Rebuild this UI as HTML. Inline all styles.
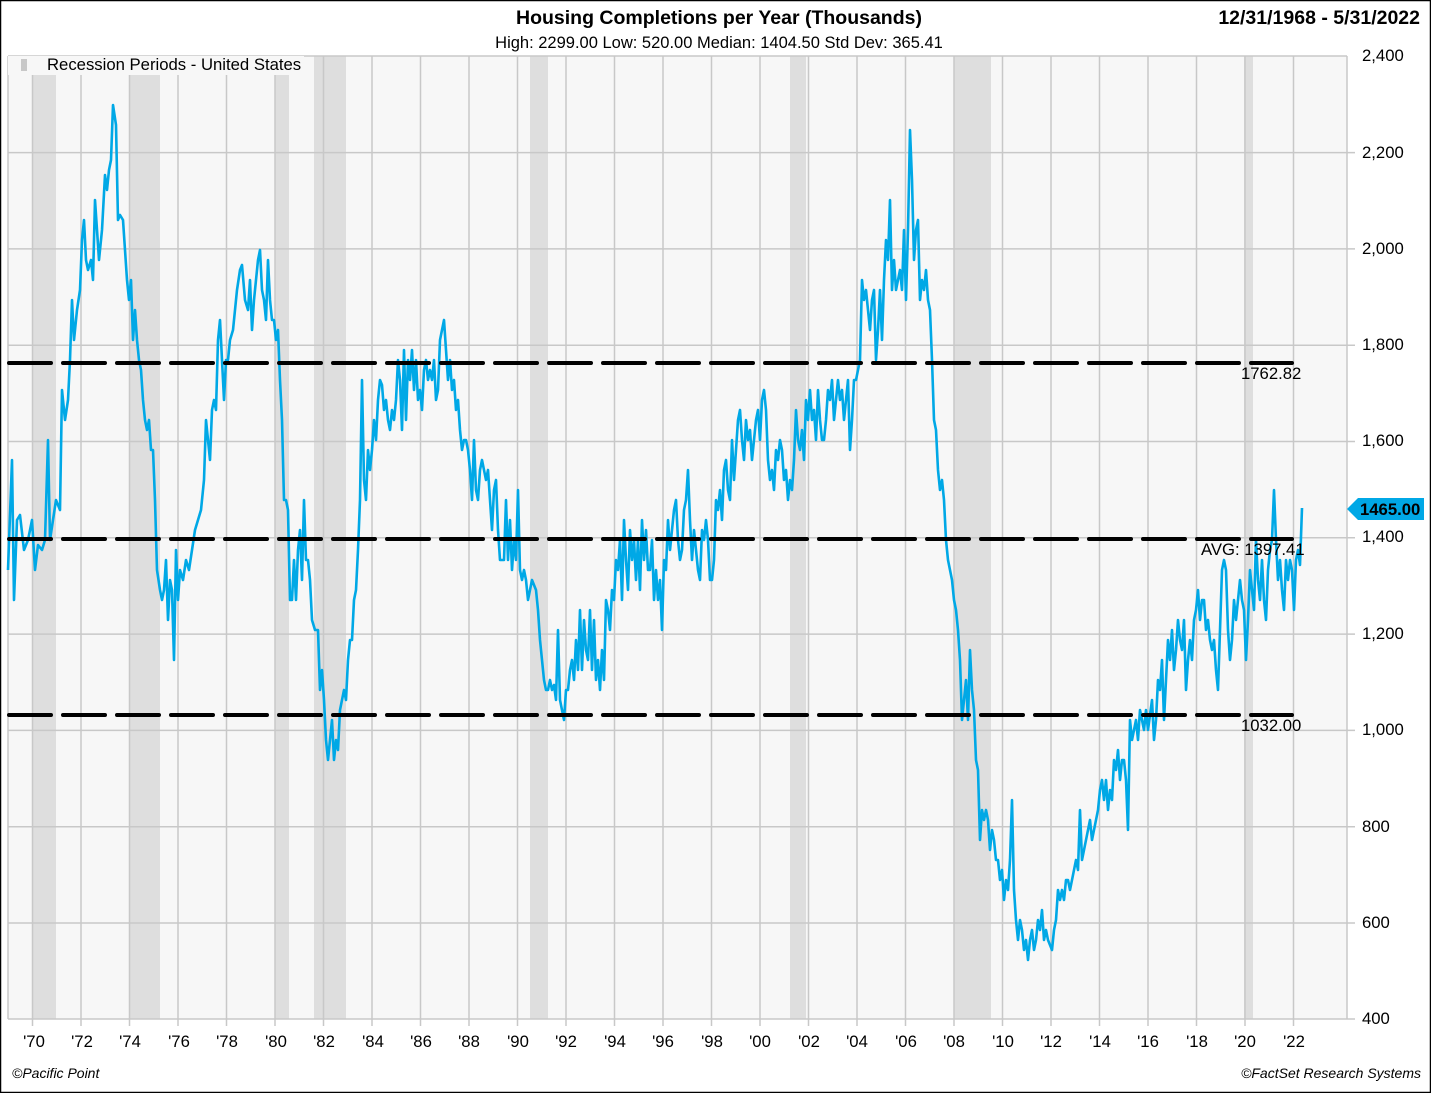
<!DOCTYPE html>
<html><head><meta charset="utf-8"><style>
html,body{margin:0;padding:0;background:#fff}
svg{display:block;font-family:"Liberation Sans",Arial,sans-serif}
</style></head><body>
<svg width="1431" height="1093" viewBox="0 0 1431 1093" xmlns="http://www.w3.org/2000/svg">
<rect x="0.5" y="0.5" width="1430" height="1092" fill="#fff" stroke="#000" stroke-width="1.5"/>
<rect x="8" y="56" width="1339" height="963" fill="#f7f7f7"/>
<g fill="#dedede">
<rect x="32" y="56" width="24" height="963"/>
<rect x="129" y="56" width="31" height="963"/>
<rect x="275" y="56" width="14" height="963"/>
<rect x="314" y="56" width="32" height="963"/>
<rect x="530" y="56" width="18" height="963"/>
<rect x="790" y="56" width="16" height="963"/>
<rect x="954" y="56" width="37" height="963"/>
<rect x="1244" y="56" width="9" height="963"/>
</g>
<g stroke="#c8c8c8" stroke-width="1.5">
<line x1="8" x2="1347" y1="56" y2="56"/><line x1="8" x2="1355" y1="152.6" y2="152.6"/><line x1="8" x2="1355" y1="248.9" y2="248.9"/><line x1="8" x2="1355" y1="345.2" y2="345.2"/><line x1="8" x2="1355" y1="441.5" y2="441.5"/><line x1="8" x2="1355" y1="537.8" y2="537.8"/><line x1="8" x2="1355" y1="634.1" y2="634.1"/><line x1="8" x2="1355" y1="730.4" y2="730.4"/><line x1="8" x2="1355" y1="826.7" y2="826.7"/><line x1="8" x2="1355" y1="923" y2="923"/><line x1="8" x2="1355" y1="1019" y2="1019"/>
<line x1="8" x2="8" y1="56" y2="1019"/><line x1="1347" x2="1347" y1="56" y2="1019"/>
</g>
<g stroke="#c8c8c8" stroke-width="1.5">
<line x1="32.5" x2="32.5" y1="56" y2="1026"/><line x1="81" x2="81" y1="56" y2="1026"/><line x1="129.5" x2="129.5" y1="56" y2="1026"/><line x1="178" x2="178" y1="56" y2="1026"/><line x1="226.5" x2="226.5" y1="56" y2="1026"/><line x1="275" x2="275" y1="56" y2="1026"/><line x1="323.5" x2="323.5" y1="56" y2="1026"/><line x1="372" x2="372" y1="56" y2="1026"/><line x1="420.5" x2="420.5" y1="56" y2="1026"/><line x1="469" x2="469" y1="56" y2="1026"/><line x1="517.5" x2="517.5" y1="56" y2="1026"/><line x1="566" x2="566" y1="56" y2="1026"/><line x1="614.5" x2="614.5" y1="56" y2="1026"/><line x1="663" x2="663" y1="56" y2="1026"/><line x1="711.5" x2="711.5" y1="56" y2="1026"/><line x1="760" x2="760" y1="56" y2="1026"/><line x1="808.5" x2="808.5" y1="56" y2="1026"/><line x1="857" x2="857" y1="56" y2="1026"/><line x1="905.5" x2="905.5" y1="56" y2="1026"/><line x1="954" x2="954" y1="56" y2="1026"/><line x1="1002.5" x2="1002.5" y1="56" y2="1026"/><line x1="1051" x2="1051" y1="56" y2="1026"/><line x1="1099.5" x2="1099.5" y1="56" y2="1026"/><line x1="1148" x2="1148" y1="56" y2="1026"/><line x1="1196.5" x2="1196.5" y1="56" y2="1026"/><line x1="1245" x2="1245" y1="56" y2="1026"/><line x1="1293.5" x2="1293.5" y1="56" y2="1026"/>
</g>
<rect x="8" y="56" width="296" height="19" fill="#f7f7f7"/>
<rect x="21" y="59" width="6" height="12" fill="#c8c8c8"/>
<text x="47" y="70" font-size="16.7" fill="#000">Recession Periods - United States</text>
<polyline fill="none" stroke="#00a8e6" stroke-width="2.6" stroke-linejoin="round" points="8,570 12,460 14,600 17,520 20,515 24,550 28,540 32,520 35,570 38,545 42,550 45,540 48,440 50,540 53,520 56,500 60,510 62,390 65,420 68,400 70,360 72,300 74,340 77,310 80,290 82,240 84,220 86,260 88,270 91,260 93,280 95,200 97,230 99,260 102,230 105,175 107,190 109,170 111,160 113,105 116,125 118,220 120,215 123,220 125,250 127,280 129,300 131,280 133,340 135,310 137,340 139,360 141,370 143,400 145,420 147,430 149,420 151,450 153,450 155,500 157,570 160,590 162,600 164,590 166,560 168,620 170,580 172,590 174,660 176,550 178,600 180,570 183,580 186,560 189,570 192,550 195,530 198,520 201,510 204,480 206,420 208,440 210,460 212,410 214,400 216,410 218,340 220,320 222,360 224,400 226,360 228,360 230,340 233,330 235,310 237,290 240,270 242,265 245,300 248,310 250,280 252,330 254,300 256,280 258,260 260,250 262,290 264,300 266,320 268,260 270,300 272,320 274,320 276,340 278,330 280,380 282,420 284,500 286,500 288,510 290,600 292,600 294,560 296,600 298,550 300,530 302,580 304,500 306,560 308,560 310,580 312,620 315,630 318,630 320,690 322,670 324,700 326,740 328,760 330,740 332,720 334,760 336,740 338,750 340,710 342,700 344,690 346,700 348,660 350,640 352,640 354,600 356,590 358,550 360,500 362,380 364,480 366,500 368,450 370,470 372,450 374,420 376,440 378,400 380,380 382,385 384,410 386,400 388,420 390,430 392,410 394,420 396,400 398,360 400,380 402,430 404,350 406,420 408,360 410,380 412,350 414,390 416,360 418,400 420,390 422,410 424,370 426,360 428,380 430,370 432,380 434,360 436,400 438,390 440,340 442,330 444,320 446,350 448,380 450,360 452,390 454,380 456,410 458,400 460,430 462,450 464,440 466,440 468,450 470,470 472,500 474,440 476,490 478,500 480,470 482,460 484,470 486,480 488,470 490,500 492,530 494,490 496,480 498,530 500,560 502,560 504,560 506,500 508,560 510,520 512,570 514,540 516,560 518,490 520,570 522,580 524,570 526,580 528,600 530,590 532,580 534,585 536,590 538,610 540,640 542,660 544,680 546,690 548,690 550,680 552,690 554,685 556,700 558,630 560,700 562,710 564,720 566,690 568,690 570,670 572,660 574,680 576,640 578,670 580,610 582,670 584,620 586,650 588,660 590,610 592,670 594,620 596,680 598,660 600,690 602,650 604,680 606,600 608,610 610,630 612,590 614,600 616,560 618,570 620,540 622,600 624,520 626,560 628,590 630,530 632,560 634,540 636,580 638,540 640,590 642,520 644,560 646,530 648,570 650,570 652,540 654,600 656,570 658,600 660,580 662,630 664,560 666,570 668,520 670,550 672,530 674,510 676,500 678,540 680,560 682,550 684,510 686,500 688,470 690,520 692,560 694,530 696,550 698,570 700,580 702,530 704,540 706,520 708,540 710,580 712,580 714,560 716,500 718,510 720,490 722,520 724,470 726,460 728,490 730,500 732,440 734,480 736,450 738,420 740,410 742,440 744,460 746,420 748,440 750,430 752,460 754,440 756,420 758,410 760,440 762,400 764,390 766,410 768,460 770,480 772,470 774,490 776,450 778,460 780,440 782,450 784,480 786,470 788,500 790,480 792,490 794,460 796,410 798,440 800,450 802,430 804,460 806,400 808,420 810,390 812,420 814,410 816,440 818,390 820,420 822,440 824,440 826,420 828,390 830,400 832,380 834,420 836,400 838,380 840,400 842,390 844,420 846,400 848,380 850,450 852,420 854,380 856,380 858,370 860,360 862,280 864,300 866,290 868,310 870,330 872,300 874,290 876,360 878,330 880,290 882,340 884,280 886,240 888,260 890,200 892,290 894,260 896,290 898,280 900,270 902,290 904,230 906,300 908,230 910,130 912,180 914,260 916,230 918,220 920,300 922,280 924,290 926,270 928,300 930,310 932,360 934,420 936,430 938,470 940,490 942,480 944,500 946,540 948,560 950,570 952,580 954,600 956,610 958,630 960,660 962,720 964,700 966,680 968,720 970,650 972,690 974,710 976,760 978,770 980,840 982,810 984,820 986,810 988,820 990,850 992,830 994,840 996,860 998,860 1000,880 1002,870 1004,900 1006,880 1008,890 1010,860 1012,800 1014,890 1016,920 1018,940 1020,920 1022,930 1024,950 1026,940 1028,960 1030,940 1032,930 1034,950 1036,940 1038,920 1040,930 1042,910 1044,940 1046,930 1048,940 1050,945 1052,950 1054,930 1056,920 1058,890 1060,900 1062,890 1064,900 1066,880 1068,880 1070,890 1072,880 1074,870 1076,860 1078,870 1080,810 1082,860 1084,850 1086,840 1088,830 1090,820 1092,840 1094,830 1096,820 1098,810 1100,790 1102,780 1104,800 1106,780 1108,810 1110,790 1112,800 1114,760 1116,770 1118,750 1120,780 1122,760 1124,760 1126,780 1128,830 1130,720 1132,740 1134,730 1136,720 1138,740 1140,710 1142,720 1144,730 1146,710 1148,730 1150,715 1152,700 1154,740 1156,720 1158,680 1160,690 1162,660 1164,720 1166,680 1168,640 1170,660 1172,630 1174,670 1176,650 1178,620 1180,640 1182,650 1184,620 1186,690 1188,660 1190,640 1192,660 1194,620 1196,610 1198,590 1200,620 1202,600 1204,600 1206,630 1208,620 1210,640 1212,650 1214,640 1216,670 1218,690 1220,630 1222,570 1224,560 1226,570 1228,630 1230,660 1232,640 1234,600 1236,620 1238,600 1240,580 1242,600 1244,610 1246,660 1248,620 1250,570 1252,590 1254,610 1256,540 1258,580 1260,600 1262,560 1264,600 1266,620 1268,570 1270,550 1272,540 1274,490 1276,540 1278,580 1280,560 1282,590 1284,610 1286,560 1288,580 1290,560 1292,570 1294,610 1296,560 1298,550 1300,565 1302,508"/>
<g stroke="#000" stroke-width="4" stroke-dasharray="42,12" stroke-linecap="round">
<line x1="9" x2="1292" y1="363" y2="363"/>
<line x1="9" x2="1292" y1="539" y2="539"/>
<line x1="9" x2="1292" y1="715" y2="715"/>
</g>
<g font-size="16.7" fill="#000">
<text x="1241" y="379">1762.82</text>
<text x="1201" y="555">AVG: 1397.41</text>
<text x="1241" y="731">1032.00</text>
</g>
<path d="M1347,509 L1358,498 L1424,498 L1424,520 L1358,520 Z" fill="#00a8e6"/>
<text x="1360" y="515" font-size="16.7" font-weight="bold" fill="#000">1465.00</text>
<g font-size="16.7" fill="#000">
<text x="1362" y="61">2,400</text><text x="1362" y="158">2,200</text><text x="1362" y="254">2,000</text><text x="1362" y="350">1,800</text><text x="1362" y="446">1,600</text><text x="1362" y="542">1,400</text><text x="1362" y="639">1,200</text><text x="1362" y="735">1,000</text><text x="1362" y="832">800</text><text x="1362" y="928">600</text><text x="1362" y="1024">400</text>
</g>
<g font-size="16.7" fill="#000" text-anchor="middle">
<text x="34" y="1047">'70</text><text x="82" y="1047">'72</text><text x="130" y="1047">'74</text><text x="179" y="1047">'76</text><text x="227" y="1047">'78</text><text x="276" y="1047">'80</text><text x="324" y="1047">'82</text><text x="373" y="1047">'84</text><text x="421" y="1047">'86</text><text x="469" y="1047">'88</text><text x="518" y="1047">'90</text><text x="566" y="1047">'92</text><text x="615" y="1047">'94</text><text x="663" y="1047">'96</text><text x="712" y="1047">'98</text><text x="760" y="1047">'00</text><text x="809" y="1047">'02</text><text x="857" y="1047">'04</text><text x="906" y="1047">'06</text><text x="954" y="1047">'08</text><text x="1003" y="1047">'10</text><text x="1051" y="1047">'12</text><text x="1100" y="1047">'14</text><text x="1148" y="1047">'16</text><text x="1197" y="1047">'18</text><text x="1245" y="1047">'20</text><text x="1294" y="1047">'22</text>
</g>
<text x="719" y="24" font-size="19.5" font-weight="bold" text-anchor="middle">Housing Completions per Year (Thousands)</text>
<text x="719" y="48" font-size="16.5" text-anchor="middle">High: 2299.00 Low: 520.00 Median: 1404.50 Std Dev: 365.41</text>
<text x="1420" y="24" font-size="19.5" font-weight="bold" text-anchor="end">12/31/1968 - 5/31/2022</text>
<text x="12" y="1078" font-size="14" font-style="italic">©Pacific Point</text>
<text x="1421" y="1078" font-size="14" font-style="italic" text-anchor="end">©FactSet Research Systems</text>
</svg>
</body></html>
